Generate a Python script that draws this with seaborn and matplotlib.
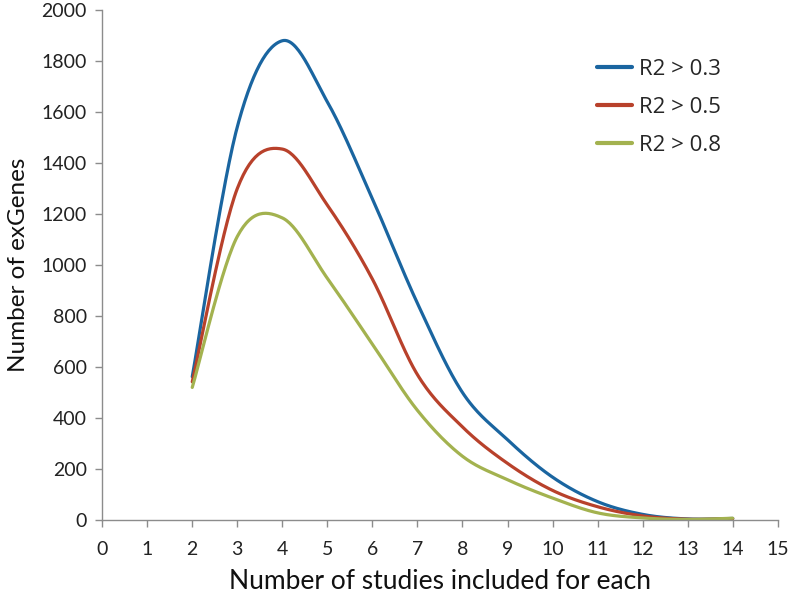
import numpy as np
import pandas as pd
import matplotlib
matplotlib.use("Agg")
import matplotlib.pyplot as plt
import seaborn as sns

studies = [2, 3, 4, 5, 6, 7, 8, 9, 10, 11, 12, 13, 14]
r2_03 = [562, 1542, 1880, 1640, 1260, 850, 500, 315, 168, 72, 22, 4, 6]
r2_05 = [542, 1300, 1455, 1235, 945, 570, 365, 222, 116, 52, 16, 3, 5]
r2_08 = [520, 1112, 1185, 948, 690, 430, 250, 158, 86, 28, 8, 2, 7]
series_names = ["R2 > 0.3", "R2 > 0.5", "R2 > 0.8"]
colors = ["#1A65A0", "#B8412B", "#A3B24F"]
x_ticks = list(range(0, 16))
y_ticks = list(range(0, 2001, 200))


def smooth(x, y, n=30):
    # Bezier smoothing like a spreadsheet "smoothed line"
    x = np.asarray(x, float)
    y = np.asarray(y, float)
    px = np.concatenate([[x[0]], x, [x[-1]]])
    py = np.concatenate([[y[0]], y, [y[-1]]])
    xs, ys = [], []
    for i in range(1, len(px) - 2):
        p0, p1, p2, p3 = (np.array([px[j], py[j]]) for j in (i - 1, i, i + 1, i + 2))
        c1 = p1 + (p2 - p0) / 6.0
        c2 = p2 - (p3 - p1) / 6.0
        t = np.linspace(0, 1, n, endpoint=(i == len(px) - 3))
        b = ((1 - t) ** 3)[:, None] * p1 + (3 * (1 - t) ** 2 * t)[:, None] * c1 \
            + (3 * (1 - t) * t ** 2)[:, None] * c2 + (t ** 3)[:, None] * p2
        xs.extend(b[:, 0])
        ys.extend(b[:, 1])
    return np.array(xs), np.array(ys)


frames = []
for name, vals in zip(series_names, [r2_03, r2_05, r2_08]):
    sx, sy = smooth(studies, vals)
    frames.append(pd.DataFrame({"x": sx, "y": sy, "series": name}))
df = pd.concat(frames, ignore_index=True)

sns.set_theme(style="white")
plt.rcParams["font.family"] = ["Lato", "DejaVu Sans"]

fig = plt.figure(figsize=(7.92, 5.97), dpi=100)
ax = fig.add_axes([0.129, 0.129, 0.853, 0.854])

sns.lineplot(data=df, x="x", y="y", hue="series", palette=colors, sort=False,
             estimator=None, units="series", linewidth=2.3, ax=ax, legend=True)

ax.set_xlim(0, 15)
ax.set_ylim(0, 2000)
ax.set_xticks(x_ticks)
ax.set_yticks(y_ticks)
ax.set_xticklabels([str(v) for v in x_ticks], fontsize=14, color="#222222")
ax.set_yticklabels([str(v) for v in y_ticks], fontsize=14, color="#222222")
for s in ["top", "right"]:
    ax.spines[s].set_visible(False)
for s in ["left", "bottom"]:
    ax.spines[s].set_color("#8c8c8c")
    ax.spines[s].set_linewidth(1.0)
ax.tick_params(axis="both", direction="out", length=5, width=1, color="#8c8c8c",
               bottom=True, left=True)
ax.tick_params(axis="x", pad=10)
ax.tick_params(axis="y", pad=6)

ax.set_xlabel("Number of studies included for each", labelpad=8, fontsize=19, color="#111111")
ax.set_ylabel("Number of exGenes", labelpad=9, fontsize=17.5, color="#111111")

leg = ax.legend(loc="upper left", bbox_to_anchor=(0.732, 0.905), frameon=False,
                fontsize=16, handlelength=1.6, handletextpad=0.3, labelspacing=0.78,
                borderpad=0, borderaxespad=0)
for t in leg.get_texts():
    t.set_family(["Open Sans", "DejaVu Sans"])
for h in leg.get_lines():
    h.set_linewidth(3)

fig.savefig("out.png", dpi=100)
